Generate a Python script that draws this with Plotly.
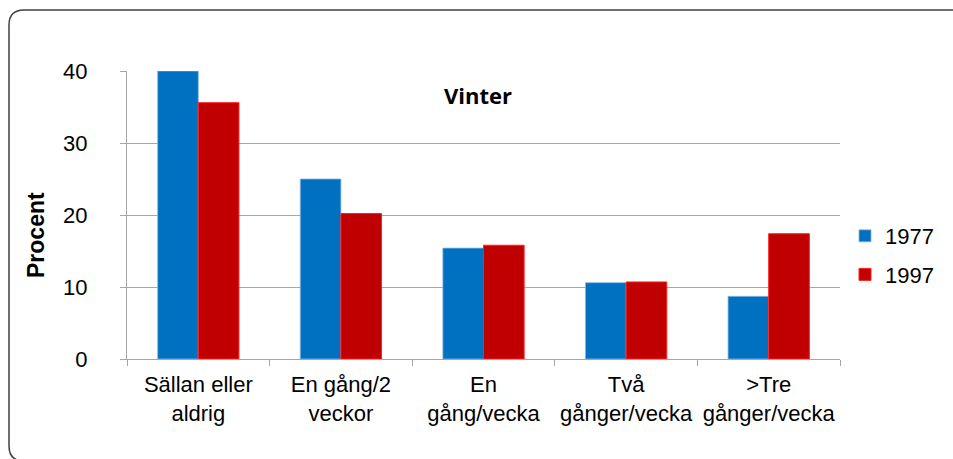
import plotly.graph_objects as go

categories = ["Sällan eller<br>aldrig", "En gång/2<br>veckor", "En<br>gång/vecka",
              "Två<br>gånger/vecka", ">Tre<br>gånger/vecka"]
values_1977 = [40.0, 25.0, 15.4, 10.6, 8.7]
values_1997 = [35.6, 20.2, 15.8, 10.7, 17.4]
y_ticks = [0, 10, 20, 30, 40]

W, H = 953, 459
L, R, T, B = 127, 113, 71, 100
PW, PH = W - L - R, H - T - B


def px(x):
    return (x - L) / PW


def py(y):
    return (H - B - y) / PH


fig = go.Figure()
fig.add_trace(go.Bar(name="1977", x=categories, y=values_1977,
                     marker=dict(color="#0070C0", line=dict(color="rgba(140,180,230,0.8)", width=1)),
                     legendgroup="a"))
fig.add_trace(go.Bar(name="1997", x=categories, y=values_1997,
                     marker=dict(color="#C00000", line=dict(color="#FF2020", width=1)),
                     legendgroup="b"))

# rounded border of the chart area
x0, x1, y0, y1, r = 9, 968, 10, 461, 15
path = (f"M {px(x0+r)},{py(y0)} L {px(x1-r)},{py(y0)} "
        f"Q {px(x1)},{py(y0)} {px(x1)},{py(y0+r)} L {px(x1)},{py(y1-r)} "
        f"Q {px(x1)},{py(y1)} {px(x1-r)},{py(y1)} L {px(x0+r)},{py(y1)} "
        f"Q {px(x0)},{py(y1)} {px(x0)},{py(y1-r)} L {px(x0)},{py(y0+r)} "
        f"Q {px(x0)},{py(y0)} {px(x0+r)},{py(y0)} Z")

fig.update_layout(
    width=W, height=H,
    margin=dict(l=L, r=R, t=T, b=B),
    paper_bgcolor="white", plot_bgcolor="white",
    barmode="group", bargap=0.43, bargroupgap=0,
    font=dict(family="Liberation Sans, Arial, sans-serif", size=22, color="#000000"),
    showlegend=True,
    legend=dict(x=px(845), xanchor="left", y=py(215), yanchor="top",
                traceorder="grouped", tracegroupgap=7,
                font=dict(size=22), bgcolor="rgba(0,0,0,0)"),
    shapes=[dict(type="path", xref="paper", yref="paper", path=path,
                 line=dict(color="#404040", width=1.5), layer="above")],
    annotations=[
        dict(text="<b>Vinter</b>", xref="paper", yref="paper", x=px(478), y=py(95),
             xanchor="center", yanchor="middle", showarrow=False,
             font=dict(family="Open Sans, sans-serif", size=22, color="#000000")),
        dict(text="<b>Procent</b>", xref="paper", yref="paper", x=px(36.5), y=py(234.5),
             xanchor="center", yanchor="middle", showarrow=False, textangle=-90,
             font=dict(family="Liberation Sans, Arial, sans-serif", size=23, color="#000000")),
    ],
)
fig.update_yaxes(range=[0, 40], tickvals=y_ticks, showgrid=True, gridcolor="#A6A6A6",
                 gridwidth=1, showline=True, linecolor="#A6A6A6", linewidth=1,
                 ticks="outside", ticklen=6, tickcolor="#A6A6A6",
                 ticklabelstandoff=28, zeroline=False, fixedrange=True)
fig.update_xaxes(showline=True, linecolor="#A6A6A6", linewidth=1, ticks="outside",
                 tickson="boundaries", ticklen=6, tickcolor="#A6A6A6",
                 ticklabelstandoff=6, fixedrange=True)

fig.write_html("out.html", config={"displayModeBar": False},
               post_script="document.body.style.margin='0';")
